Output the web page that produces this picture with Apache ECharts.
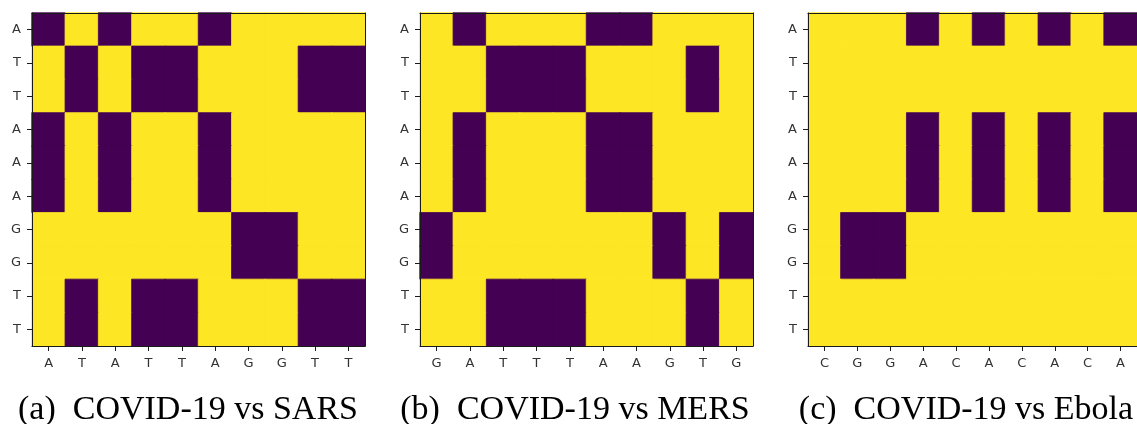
<!DOCTYPE html>
<html>
<head>
<meta charset="utf-8">
<script src="https://cdn.jsdelivr.net/npm/echarts@6/dist/echarts.min.js"></script>
<style>
html,body{margin:0;padding:0;background:#fff;}
#chart{width:1137px;height:424px;}
</style>
</head>
<body>
<div id="chart"></div>
<script>
// Row sequence (COVID-19 segment), shared by all panels
const rowLabels = ['A','T','T','A','A','A','G','G','T','T'];
// Column sequences
const colsSARS  = ['A','T','A','T','T','A','G','G','T','T'];
const colsMERS  = ['G','A','T','T','T','A','A','G','T','G'];
const colsEbola = ['C','G','G','A','C','A','C','A','C','A'];
// Match matrices (1 = match / purple, 0 = no match / yellow), rows top to bottom
const matchSARS = [
  [1,0,1,0,0,1,0,0,0,0],
  [0,1,0,1,1,0,0,0,1,1],
  [0,1,0,1,1,0,0,0,1,1],
  [1,0,1,0,0,1,0,0,0,0],
  [1,0,1,0,0,1,0,0,0,0],
  [1,0,1,0,0,1,0,0,0,0],
  [0,0,0,0,0,0,1,1,0,0],
  [0,0,0,0,0,0,1,1,0,0],
  [0,1,0,1,1,0,0,0,1,1],
  [0,1,0,1,1,0,0,0,1,1]
];
const matchMERS = [
  [0,1,0,0,0,1,1,0,0,0],
  [0,0,1,1,1,0,0,0,1,0],
  [0,0,1,1,1,0,0,0,1,0],
  [0,1,0,0,0,1,1,0,0,0],
  [0,1,0,0,0,1,1,0,0,0],
  [0,1,0,0,0,1,1,0,0,0],
  [1,0,0,0,0,0,0,1,0,1],
  [1,0,0,0,0,0,0,1,0,1],
  [0,0,1,1,1,0,0,0,1,0],
  [0,0,1,1,1,0,0,0,1,0]
];
const matchEbola = [
  [0,0,0,1,0,1,0,1,0,1],
  [0,0,0,0,0,0,0,0,0,0],
  [0,0,0,0,0,0,0,0,0,0],
  [0,0,0,1,0,1,0,1,0,1],
  [0,0,0,1,0,1,0,1,0,1],
  [0,0,0,1,0,1,0,1,0,1],
  [0,1,1,0,0,0,0,0,0,0],
  [0,1,1,0,0,0,0,0,0,0],
  [0,0,0,0,0,0,0,0,0,0],
  [0,0,0,0,0,0,0,0,0,0]
];
const captions = ['(a)\u2002COVID-19 vs SARS','(b)\u2002COVID-19 vs MERS','(c)\u2002COVID-19 vs Ebola'];

const panels = [
  {cols: colsSARS,  m: matchSARS,  left: 32,  cap: 188},
  {cols: colsMERS,  m: matchMERS,  left: 420, cap: 575},
  {cols: colsEbola, m: matchEbola, left: 808, cap: 966}
];

const PURPLE = '#440154', YELLOW = '#fde725';
const lineColor = '#1a1a1a';
const labelStyle = {color:'#333', fontFamily:'DejaVu Sans', fontSize:13};

const grids = [], xAxes = [], yAxes = [], series = [], graphics = [];
panels.forEach((p, i) => {
  grids.push({left: p.left, top: 13, width: 333, height: 333, containLabel: false});
  // main axes
  xAxes.push({type:'category', gridIndex:i, data:p.cols, position:'bottom', z:10,
    axisLine:{show:true, onZero:false, lineStyle:{color:lineColor, width:1}},
    axisTick:{show:true, alignWithLabel:true, interval:0, length:5, lineStyle:{color:lineColor}},
    axisLabel:Object.assign({interval:0, margin:11}, labelStyle),
    splitLine:{show:false}});
  yAxes.push({type:'category', gridIndex:i, data:rowLabels, inverse:true, position:'left', z:10,
    axisLine:{show:true, onZero:false, lineStyle:{color:lineColor, width:1}},
    axisTick:{show:true, alignWithLabel:true, interval:0, length:5, lineStyle:{color:lineColor}},
    axisLabel:Object.assign({interval:0, margin:11}, labelStyle),
    splitLine:{show:false}});
  // frame axes (top & right)
  xAxes.push({type:'category', gridIndex:i, data:p.cols, position:'top', z:10,
    axisLine:{show:true, onZero:false, lineStyle:{color:lineColor, width:1}},
    axisTick:{show:false}, axisLabel:{show:false}, splitLine:{show:false}});
  yAxes.push({type:'category', gridIndex:i, data:rowLabels, inverse:true, position:'right', z:10,
    axisLine:{show:true, onZero:false, lineStyle:{color:lineColor, width:1}},
    axisTick:{show:false}, axisLabel:{show:false}, splitLine:{show:false}});
  const data = [];
  p.m.forEach((row, r) => row.forEach((v, c) => {
    const col = v ? PURPLE : YELLOW;
    data.push({value:[c, r, v], itemStyle:{color:col, borderColor:col, borderWidth:0.8}});
  }));
  series.push({type:'heatmap', xAxisIndex:2*i, yAxisIndex:2*i, data: data,
    emphasis:{disabled:true}, z:0});
  graphics.push({type:'text', x:p.cap, y:410, z:20, style:{text:captions[i],
    fontFamily:'Liberation Serif', fontSize:34, fill:'#000',
    textAlign:'center', textVerticalAlign:'middle'}});
});

const chart = echarts.init(document.getElementById('chart'), null, {renderer:'canvas'});
chart.setOption({
  animation:false,
  backgroundColor:'#fff',
  grid:grids, xAxis:xAxes, yAxis:yAxes, series:series,
  graphic:graphics
});
</script>
</body>
</html>
